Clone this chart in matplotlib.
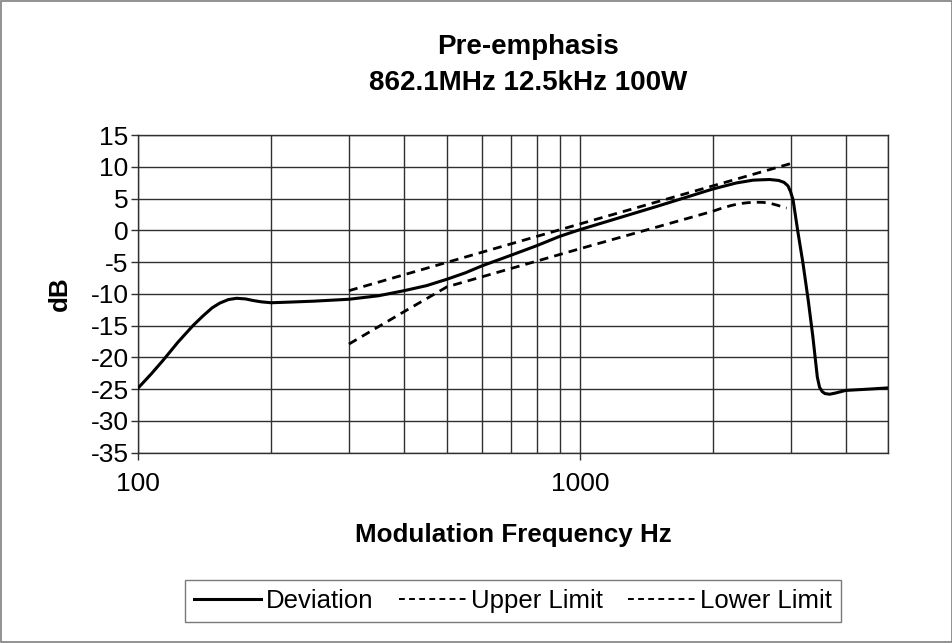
import matplotlib
matplotlib.use("Agg")
import matplotlib.pyplot as plt
from matplotlib.ticker import FixedLocator, LogLocator, NullFormatter, FixedFormatter
from matplotlib.patches import Rectangle
from matplotlib.lines import Line2D

plt.rcParams['font.family'] = ['Liberation Sans', 'DejaVu Sans']
plt.rcParams['axes.unicode_minus'] = False

# Deviation (measured response)
dev_freq = [100, 107, 114, 123, 133, 140, 147, 153, 160, 167, 175, 182, 190, 200, 220, 250,
            300, 350, 400, 450, 500, 550, 600, 700, 800, 900, 1000, 1500, 2000, 2260, 2470,
            2690, 2820, 2900, 2960, 3000, 3040, 3120, 3200, 3290, 3370, 3450, 3490, 3540,
            3590, 3680, 3800, 4000, 4500, 5000]
dev_db = [-24.8, -22.6, -20.4, -17.6, -15.0, -13.5, -12.2, -11.45, -10.9, -10.7, -10.8,
          -11.05, -11.26, -11.4, -11.3, -11.15, -10.85, -10.3, -9.5, -8.7, -7.7, -6.7, -5.6,
          -3.9, -2.4, -0.95, 0.1, 3.8, 6.5, 7.45, 7.9, 8.0, 7.85, 7.55, 7.0, 6.1, 4.8, -0.4,
          -5.1, -11.0, -16.7, -23.1, -24.7, -25.4, -25.7, -25.8, -25.6, -25.2, -25.0, -24.8]

# Limits
upper_freq = [300, 1000, 3000]
upper_db = [-9.5, 1.0, 10.5]

lower_freq = [300, 400, 500, 1000, 2000, 2100, 2200, 2300, 2400, 2500, 2600, 2700, 2800, 2940]
lower_db = [-17.9, -12.8, -8.9, -2.9, 3.0, 3.5, 3.9, 4.2, 4.35, 4.42, 4.4, 4.25, 3.95, 3.5]

y_ticks = list(range(-35, 20, 5))
x_major = [100, 1000]
x_major_labels = ['100', '1000']

fig = plt.figure(figsize=(9.53, 6.43), dpi=100)
ax = fig.add_axes([0.1451, 0.2960, 0.7872, 0.4940])

grid_col = '#303030'
dash = (0, (3.2, 2.2))
ax.plot(dev_freq, dev_db, color='black', lw=2.2, zorder=3)
ax.plot(upper_freq, upper_db, color='black', lw=2.0, ls=dash, zorder=3)
ax.plot(lower_freq, lower_db, color='black', lw=2.0, ls=dash, zorder=3)

ax.set_xscale('log')
ax.set_xlim(100, 5000)
ax.set_ylim(-35, 15)
ax.set_yticks(y_ticks)

ax.xaxis.set_major_locator(FixedLocator(x_major))
ax.xaxis.set_major_formatter(FixedFormatter(x_major_labels))
ax.xaxis.set_minor_locator(LogLocator(base=10, subs=range(2, 10)))
ax.xaxis.set_minor_formatter(NullFormatter())

ax.grid(True, which='major', color=grid_col, lw=1.0)
ax.grid(True, which='minor', axis='x', color=grid_col, lw=1.0)
ax.set_axisbelow(True)

ax.tick_params(axis='both', which='major', length=5, width=1, color=grid_col,
               labelsize=19, pad=2)
ax.tick_params(axis='x', which='minor', length=0)
ax.tick_params(axis='x', which='major', pad=9)

for s in ax.spines.values():
    s.set_color(grid_col)
    s.set_linewidth(1.0)

ax.set_xlabel('Modulation Frequency Hz', fontsize=18.7, fontweight='bold')
ax.xaxis.set_label_coords(0.5, -0.222)
ax.set_ylabel('dB', fontsize=18.7, fontweight='bold')
ax.yaxis.set_label_coords(-0.088, 0.5)

fig.text(528 / 953, 1 - 47 / 643, 'Pre-emphasis', ha='center', va='center',
         fontsize=20, fontweight='bold')
fig.text(528 / 953, 1 - 83 / 643, '862.1MHz 12.5kHz 100W', ha='center', va='center',
         fontsize=20, fontweight='bold')

# legend proxies: Excel draws the legend keys with finer dashes
handles = [Line2D([], [], color='black', lw=2.2),
           Line2D([], [], color='black', lw=1.4, ls=(0, (3, 2.2))),
           Line2D([], [], color='black', lw=1.4, ls=(0, (3, 2.2)))]
labels = ['Deviation', 'Upper Limit', 'Lower Limit']
leg = ax.legend(handles, labels, loc='center', bbox_to_anchor=(0.4996, -0.467), ncol=3,
                fontsize=18.5, frameon=True, fancybox=False, edgecolor='#595959',
                handlelength=2.6, handletextpad=0.2, columnspacing=1.0, borderpad=0.35)
leg.get_frame().set_linewidth(1.0)

fig.patches.append(Rectangle((0.001, 0.001), 0.998, 0.998, transform=fig.transFigure,
                             fill=False, edgecolor='#7f7f7f', lw=1.2))

fig.savefig('out.png', dpi=100)
